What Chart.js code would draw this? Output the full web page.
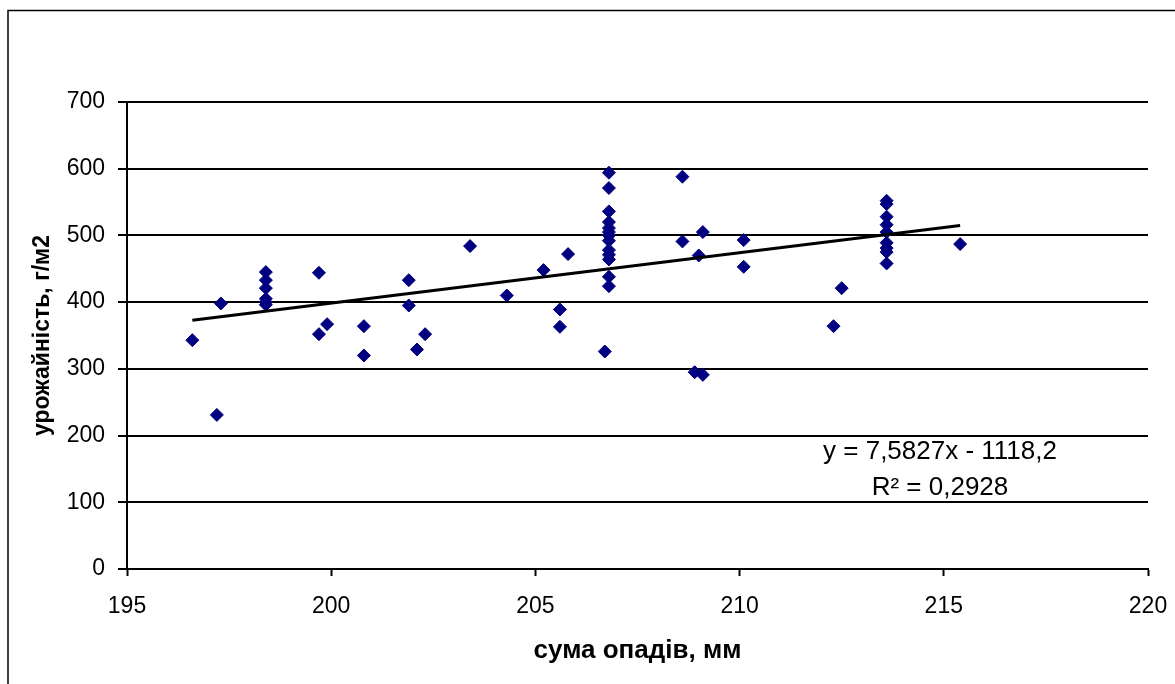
<!DOCTYPE html>
<html>
<head>
<meta charset="utf-8">
<script src="https://cdn.jsdelivr.net/npm/chart.js@4"></script>
<style>
  html, body { margin: 0; padding: 0; background: #fff; }
  #wrap { width: 1175px; height: 684px; position: relative; }
</style>
</head>
<body>
<div id="wrap"><canvas id="chartOpady"></canvas></div>
<script>
// сума опадів (мм) і урожайність (г/м2)
const opady = [
  196.6, 197.2, 197.3,
  198.4, 198.4, 198.4, 198.4, 198.4, 198.4,
  199.7, 199.7, 199.9, 200.8, 200.8, 201.9, 201.9, 202.1, 202.3,
  203.4, 204.3, 205.2, 205.8, 205.6, 205.6, 206.7,
  206.8, 206.8, 206.8, 206.8, 206.8, 206.8, 206.8, 206.8, 206.8, 206.8, 206.8, 206.8, 206.8,
  208.6, 208.6, 209.1, 209.0, 208.9, 209.1, 210.1, 210.1, 212.5, 212.3,
  213.6, 213.6, 213.6, 213.6, 213.6, 213.6, 213.6, 213.6, 213.6,
  215.4
];
const urozhai = [
  343, 231, 398,
  445, 433, 421, 405, 400, 396,
  444, 352, 367, 364, 320, 433, 395, 329, 352,
  484, 410, 448, 472, 389, 363, 326,
  594, 571, 536, 520, 511, 505, 500, 492, 478, 471, 464, 438, 424,
  588, 491, 505, 470, 295, 291, 493, 453, 421, 364,
  552, 547, 528, 516, 505, 489, 481, 475, 458,
  487
];

// лінія тренду (кінці), y = 7,5827x - 1118,2
const trendX = [196.6, 215.4];
const trendY = [373, 515];

const xTicks = [195, 200, 205, 210, 215, 220];
const yTicks = [0, 100, 200, 300, 400, 500, 600, 700];

const equationText = 'y = 7,5827x - 1118,2';
const r2Text = 'R² = 0,2928';

const FONT = 'Arial, "Liberation Sans", sans-serif';

// рамка діаграми + підпис рівняння
const ramkaPlugin = {
  id: 'ramka',
  afterDraw(chart) {
    const ctx = chart.ctx;
    ctx.save();
    ctx.strokeStyle = '#000';
    ctx.lineWidth = 1.5;
    ctx.strokeRect(8, 10.5, 1300, 800);

    ctx.fillStyle = '#000';
    ctx.font = '26px ' + FONT;
    ctx.textAlign = 'center';
    ctx.textBaseline = 'middle';
    ctx.fillText(equationText, 940, 452);
    ctx.fillText(r2Text, 940, 488);
    ctx.restore();
  }
};

new Chart(document.getElementById('chartOpady'), {
  type: 'scatter',
  data: {
    datasets: [
      {
        label: 'Лінійний тренд',
        type: 'line',
        data: trendX.map((x, i) => ({ x, y: trendY[i] })),
        borderColor: '#000',
        borderWidth: 3,
        pointRadius: 0,
        fill: false,
        order: 0
      },
      {
        label: 'урожайність',
        data: opady.map((x, i) => ({ x, y: urozhai[i] })),
        pointStyle: 'rectRot',
        pointRadius: 6.5,
        pointBackgroundColor: '#000080',
        pointBorderColor: '#000080',
        pointBorderWidth: 1,
        order: 1
      }
    ]
  },
  options: {
    responsive: true,
    maintainAspectRatio: false,
    animation: false,
    layout: { padding: { top: 102, right: 27, left: 0, bottom: 0 } },
    plugins: { legend: { display: false }, tooltip: { enabled: false } },
    scales: {
      x: {
        type: 'linear',
        min: 195, max: 220,
        afterFit(scale) {
          scale.height = 115;
          scale.paddingLeft = 0;
          scale.paddingRight = 0;
        },
        afterBuildTicks(scale) { scale.ticks = xTicks.map(v => ({ value: v })); },
        ticks: { color: '#000', font: { size: 23, family: FONT }, padding: 17 },
        grid: { drawOnChartArea: false, drawTicks: true, tickLength: 7, tickColor: '#000', tickWidth: 2 },
        border: { display: true, color: '#000', width: 2 },
        title: {
          display: true, text: 'сума опадів, мм', color: '#000',
          font: { size: 26, weight: 'bold', family: FONT },
          padding: { top: 0, bottom: 18 }
        }
      },
      y: {
        min: 0, max: 700,
        afterFit(scale) { scale.width = 127; },
        afterBuildTicks(scale) { scale.ticks = yTicks.map(v => ({ value: v })); },
        ticks: { color: '#000', font: { size: 23, family: FONT }, padding: 13 },
        grid: { color: '#000', lineWidth: 2, drawTicks: true, tickLength: 9, tickColor: '#000' },
        border: { display: true, color: '#000', width: 2 },
        title: {
          display: true, text: 'урожайність, г/м2', color: '#000',
          font: { size: 23, weight: 'bold', family: FONT },
          padding: { top: 29, bottom: 0 }
        }
      }
    }
  },
  plugins: [ramkaPlugin]
});
</script>
</body>
</html>
